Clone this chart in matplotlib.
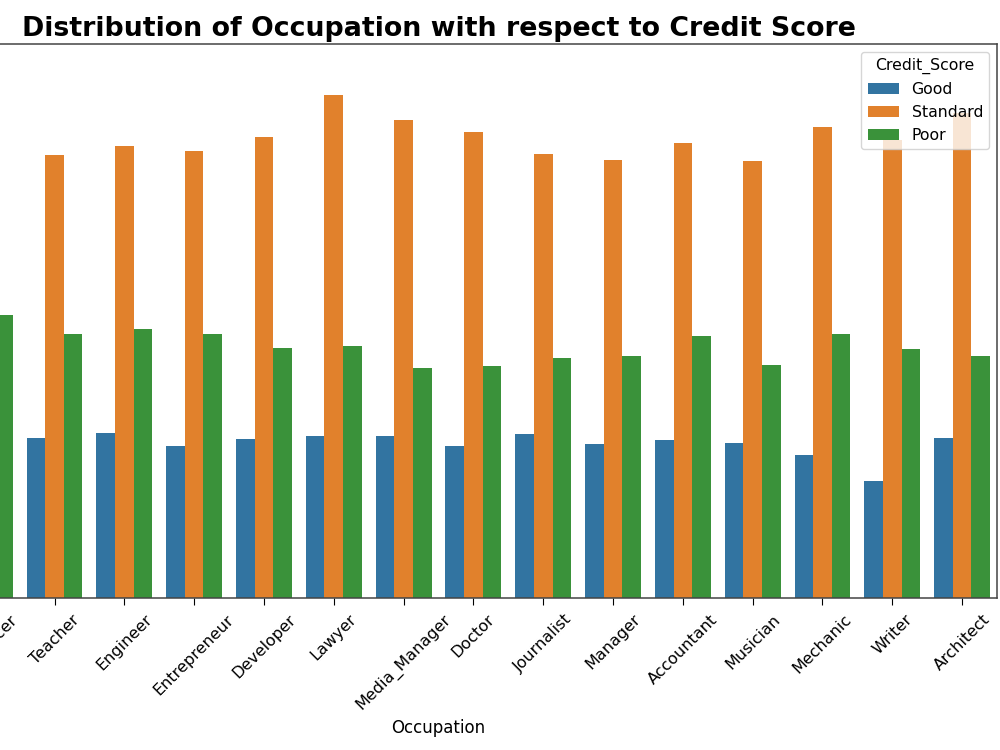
import numpy as np
import matplotlib.pyplot as plt

# Occupation counts per credit score class
occupations = ['Scientist', 'Freelancer', 'Teacher', 'Engineer', 'Entrepreneur', 'Developer',
               'Lawyer', 'Media_Manager', 'Doctor', 'Journalist', 'Manager', 'Accountant',
               'Musician', 'Mechanic', 'Writer', 'Architect']
scores = ['Good', 'Standard', 'Poor']
good = [1150, 1300, 1120, 1155, 1064, 1113, 1134, 1134, 1064, 1148, 1078, 1106, 1085, 1001, 819, 1120]
standard = [3250, 3695, 3101, 3164, 3129, 3227, 3521, 3346, 3262, 3108, 3066, 3185, 3059, 3297, 3206, 3395]
poor = [1850, 1981, 1848, 1883, 1848, 1750, 1764, 1610, 1624, 1680, 1694, 1834, 1631, 1848, 1743, 1694]

colors = ['#3274a1', '#e1812c', '#3a923a']   # seaborn default (desaturated tab10)

fig = plt.figure(figsize=(10, 7.5), dpi=100)
ax = fig.add_axes([-0.12, 0.2027, 1.117, 0.7387])

x = np.arange(len(occupations))
w = 0.8 / 3
for i, (vals, name) in enumerate(zip([good, standard, poor], scores)):
    ax.bar(x + (i - 1) * w, vals, width=w, color=colors[i], label=name)

ax.set_xlim(-0.5, len(occupations) - 0.5)
ax.set_xticks(x)
ax.set_xticklabels(occupations, rotation=45, fontsize=11.5)
ax.tick_params(axis='x', length=5, pad=5)
ax.tick_params(axis='y', labelleft=False, left=False)
for s in ax.spines.values():
    s.set_color('#444444')
    s.set_linewidth(1.1)
ax.set_xlabel('Occupation', fontsize=12, labelpad=4)
ax.set_title('Distribution of Occupation with respect to Credit Score', fontsize=19.3, fontweight='bold')
ax.legend(title='Credit_Score', loc='upper right', fontsize=11.3, title_fontsize=11.3)

fig.savefig('out.png', dpi=100)
